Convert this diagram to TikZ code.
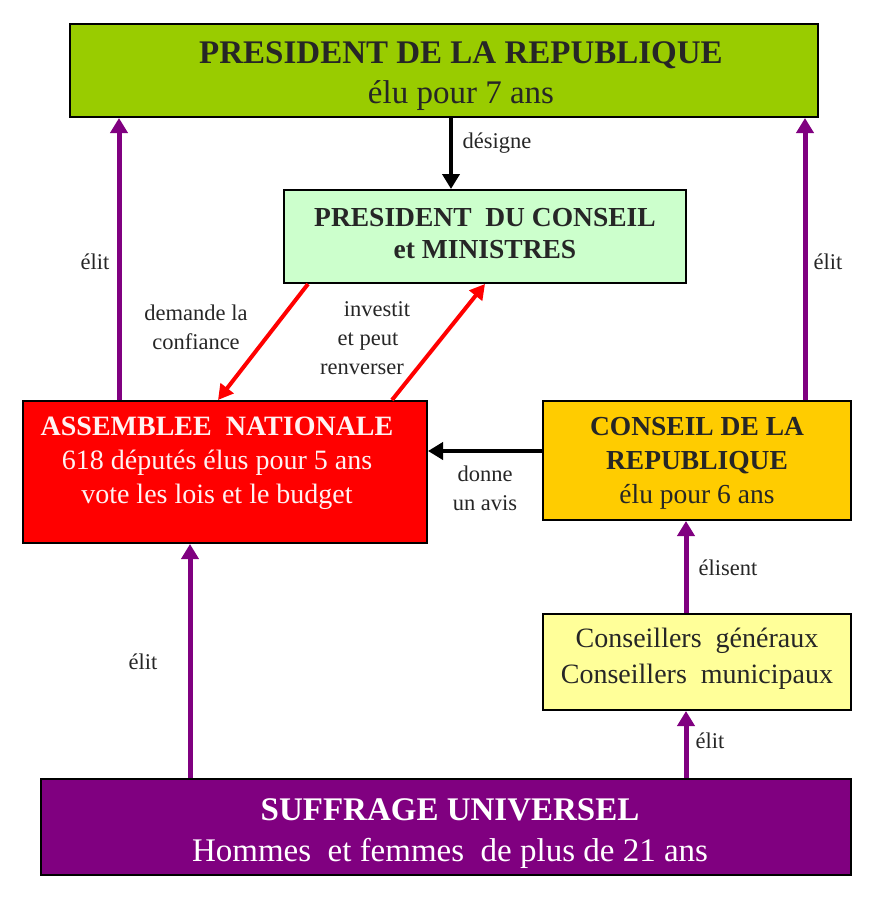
\documentclass[tikz,border=0pt]{standalone}
\usepackage{fontspec}
\setmainfont{Liberation Serif}
\usetikzlibrary{arrows.meta}
\definecolor{cgreen}{HTML}{99CC00}
\definecolor{clight}{HTML}{CCFFCC}
\definecolor{cred}{HTML}{FF0000}
\definecolor{corange}{HTML}{FFCC00}
\definecolor{cyellow}{HTML}{FFFF99}
\definecolor{cpurple}{HTML}{800080}
\definecolor{ctext}{HTML}{262626}
\definecolor{cpink}{HTML}{FFF2F2}
\tikzset{
  box/.style={draw=black, line width=2pt, inner sep=0pt, rectangle},
  txt/.style={align=center, inner sep=0pt, text=ctext},
  lbl/.style={align=center, inner sep=0pt, text=ctext, font=\fontsize{22.5}{29}\selectfont},
  pa/.style={draw=cpurple, line width=5pt, -{Triangle[length=15pt,width=17pt]}},
  ba/.style={draw=black, line width=4.5pt, -{Triangle[length=15pt,width=17pt]}},
  ra/.style={draw=cred, line width=4pt, -{Triangle[length=15pt,width=16pt]}},
}
\begin{document}
\begin{tikzpicture}[x=1pt,y=-1pt]
\useasboundingbox (0,0) rectangle (879,900);
% boxes
\node[box, fill=cgreen, minimum width=748pt, minimum height=93pt] (top) at (444,70.5) {};
\node[box, fill=clight, minimum width=402pt, minimum height=93pt] (pdc) at (485,236.5) {};
\node[box, fill=cred, minimum width=404pt, minimum height=142pt] (an) at (225,472) {};
\node[box, fill=corange, minimum width=308pt, minimum height=119pt] (cr) at (697,460.5) {};
\node[box, fill=cyellow, minimum width=308pt, minimum height=96pt] (cg) at (697,662) {};
\node[box, fill=cpurple, minimum width=810pt, minimum height=96pt] (su) at (446,827) {};
% texts
\node[txt, font=\fontsize{33}{40}\selectfont] (toptxt) at (461,76) {{\bfseries PRESIDENT DE LA REPUBLIQUE}\\élu pour 7 ans};
\node[txt, font=\fontsize{27.5}{32}\selectfont\bfseries] (pdctxt) at (485,234) {PRESIDENT\ \ DU CONSEIL\\et MINISTRES};
\node[txt, text=cpink, font=\fontsize{28}{34}\selectfont] (antxt) at (217,463) {{\bfseries ASSEMBLEE\ \ NATIONALE}\\618 députés élus pour 5 ans\\vote les lois et le budget};
\node[txt, font=\fontsize{27.5}{34}\selectfont] (crtxt) at (697,463) {{\bfseries CONSEIL DE LA}\\{\bfseries REPUBLIQUE}\\élu pour 6 ans};
\node[txt, font=\fontsize{28}{36}\selectfont] (cgtxt) at (697,659) {Conseillers\ \ généraux\\Conseillers\ \ municipaux};
\node[txt, text=white, font=\fontsize{33}{41}\selectfont] (sutxt) at (450,834) {{\bfseries SUFFRAGE UNIVERSEL}\\Hommes\ \ et\ femmes\ \ de plus de 21 ans};
% x positions
\coordinate (xl) at (119,0);
\coordinate (xr) at (805,0);
\coordinate (xd) at (451,0);
\coordinate (xc) at (686,0);
\coordinate (xa) at (190,0);
\coordinate (r1) at (308,0);
\coordinate (r2) at (218,0);
\coordinate (r3) at (392,0);
\coordinate (r4) at (485,0);
\coordinate (ya) at (0,451);
% connectors
\draw[pa] (an.north -| xl) -- (top.south -| xl);
\draw[pa] (cr.north -| xr) -- (top.south -| xr);
\draw[ba] (top.south -| xd) -- (pdc.north -| xd);
\draw[ra] (pdc.south -| r1) -- (an.north -| r2);
\draw[ra] (an.north -| r3) -- (pdc.south -| r4);
\draw[ba] (cr.west |- ya) -- (an.east |- ya);
\draw[pa] (cg.north -| xc) -- (cr.south -| xc);
\draw[pa] (su.north -| xc) -- (cg.south -| xc);
\draw[pa] (su.north -| xa) -- (an.south -| xa);
% labels
\node[lbl] (l1) at (497,143) {désigne};
\node[lbl] (l2) at (95,262) {élit};
\node[lbl] (l3) at (828,262) {élit};
\node[lbl] (l4) at (196,327) {demande la\\confiance};
\node[lbl] (l5) at (362,338) {\hspace*{30pt}investit\\\hspace*{12pt}et peut\\renverser};
\node[lbl] (l6) at (485,488) {donne\\un avis};
\node[lbl] (l7) at (728,568) {élisent};
\node[lbl] (l8) at (710,741) {élit};
\node[lbl] (l9) at (143,662) {élit};
\end{tikzpicture}
\end{document}
